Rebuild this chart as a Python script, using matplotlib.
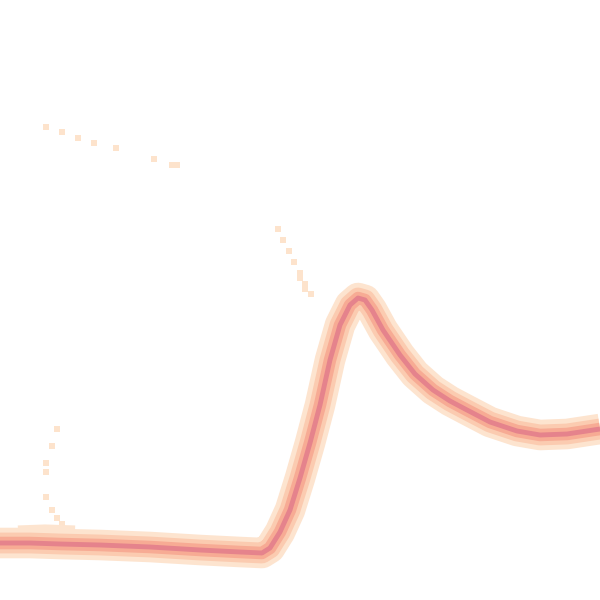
import numpy as np
import matplotlib
matplotlib.use("Agg")
import matplotlib.pyplot as plt

# main trace (centre of the dense band)
curve_x = [0, 30, 60, 100, 150, 200, 240, 262, 270, 280, 290, 300, 310, 320,
           330, 340, 350, 358, 365, 372, 383, 400, 415, 433, 450, 467, 490,
           517, 540, 567, 600]
curve_y = [543, 543, 544, 545, 547, 550, 552, 553, 548, 532, 510, 478, 443, 405,
           360, 325, 305, 298, 300, 310, 330, 355, 374, 390, 401, 410, 422,
           431, 435, 434, 429]

# faint shoulder above the start of the trace
shoulder_x = [18, 45, 75]
shoulder_y = [531, 530, 531]

# sparse single counts
dots_x = [46, 62, 78, 94, 116, 154, 172, 177,
          278, 283, 289, 294, 300, 300, 305, 305, 311,
          57, 52, 46, 46, 46, 52, 57, 62]
dots_y = [127, 132, 138, 143, 148, 159, 165, 165,
          229, 240, 251, 262, 273, 278, 284, 289, 294,
          429, 446, 463, 472, 497, 510, 518, 524]

band_colors = ["#fde4cf", "#fbcbb0", "#f7ab94", "#e5838c"]
band_widths = [22, 15, 9, 3.5]

fig = plt.figure(figsize=(6, 6), dpi=100)
ax = fig.add_axes([0, 0, 1, 1])

ax.plot(shoulder_x, shoulder_y, color=band_colors[0], lw=8,
        solid_capstyle="butt")
for c, lw in zip(band_colors, band_widths):
    ax.plot(curve_x, curve_y, color=c, lw=lw, solid_joinstyle="round",
            solid_capstyle="butt")

ax.scatter(dots_x, dots_y, marker="s", s=16, color="#fde3cc", linewidths=0)

ax.set_xlim(0, 600)
ax.set_ylim(600, 0)
ax.axis("off")

fig.savefig("out.png", dpi=100)
